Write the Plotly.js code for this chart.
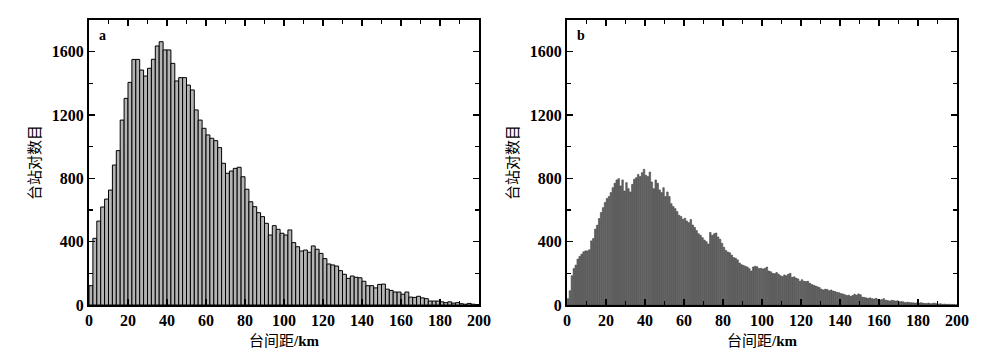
<!DOCTYPE html>
<html>
<head>
<meta charset="utf-8">
<script src="https://cdn.plot.ly/plotly-3.0.1.min.js"></script>
<style>html,body{margin:0;padding:0;background:#fff;}#chart{width:1000px;height:358px;}</style>
</head>
<body>
<div id="chart"></div>
<script>
// Panel a: 2-km bins from 0 to 200 km (counts of station pairs)
const binWidthA = 2;
const countsA = [
 122, 421, 530, 619, 669, 726, 884, 975, 1168, 1305,
 1406, 1551, 1551, 1484, 1446, 1495, 1552, 1636, 1663, 1611,
 1611, 1526, 1415, 1436, 1436, 1389, 1358, 1232, 1168, 1116,
 1074, 1053, 1038, 994, 895, 832, 846, 863, 870, 810,
 731, 652, 621, 583, 558, 516, 442, 501, 478, 453,
 442, 474, 394, 368, 341, 347, 333, 373, 352, 326,
 293, 259, 253, 246, 217, 194, 168, 183, 175, 172,
 150, 122, 122, 108, 130, 132, 100, 92, 82, 82,
 68, 82, 50, 48, 55, 45, 40, 25, 25, 25,
 20, 15, 20, 12, 15, 8, 5, 10, 5, 3
];
// Panel b: 1-km bins from 0 to 200 km
const binWidthB = 1;
const countsB = [
 40, 90, 185, 230, 252, 290, 307, 321, 336, 342,
 342, 349, 405, 420, 479, 504, 546, 584, 615, 647,
 672, 685, 710, 741, 769, 790, 798, 752, 790, 720,
 773, 735, 714, 762, 794, 804, 825, 811, 836, 857,
 819, 811, 840, 777, 735, 790, 769, 727, 710, 741,
 685, 714, 685, 640, 622, 609, 590, 567, 559, 542,
 548, 530, 520, 540, 505, 490, 470, 450, 440, 425,
 410, 400, 385, 458, 440, 450, 455, 430, 415, 390,
 365, 345, 335, 330, 315, 300, 295, 285, 265, 255,
 250, 245, 240, 230, 215, 240, 245, 242, 230, 232,
 228, 232, 240, 215, 210, 200, 198, 205, 195, 185,
 180, 190, 185, 195, 200, 175, 178, 170, 165, 150,
 160, 150, 148, 150, 138, 130, 125, 120, 115, 110,
 100, 95, 100, 98, 90, 95, 88, 85, 80, 78,
 72, 70, 65, 60, 62, 55, 60, 68, 62, 70,
 65, 50, 48, 45, 42, 45, 40, 38, 42, 36,
 32, 35, 40, 30, 28, 25, 30, 28, 25, 27,
 20, 22, 20, 15, 18, 16, 15, 14, 12, 14,
 12, 15, 12, 10, 10, 12, 8, 10, 12, 8,
 6, 8, 5, 6, 5, 4, 5, 3, 4, 2
];
const panelLabels = ['a', 'b'];
const xTitleCJK = '台间距';
const xTitleUnit = '/km';
const yTitle = '台站对数目';
const xTickVals = [0, 20, 40, 60, 80, 100, 120, 140, 160, 180, 200];
const yTickVals = [0, 400, 800, 1200, 1600];

const serif = '"Liberation Serif", "DejaVu Serif", serif';
const tickFont = {family: serif, size: 16, color: '#000', weight: 'bold'};
const titleFont = {family: '"Noto Sans CJK SC", sans-serif', size: 15, color: '#000'};

const traces = [
  {type: 'bar', x0: binWidthA / 2, dx: binWidthA, y: countsA, xaxis: 'x', yaxis: 'y',
   marker: {color: '#b4b4b4', line: {color: '#000', width: 1}}, width: binWidthA, hoverinfo: 'skip'},
  {type: 'bar', x0: binWidthB / 2, dx: binWidthB, y: countsB, xaxis: 'x2', yaxis: 'y2',
   marker: {color: '#6a6a6a', line: {color: '#333', width: 0.5}}, width: binWidthB * 0.8, hoverinfo: 'skip'}
];

function xax(domain, anchor) {
  return {domain: domain, anchor: anchor, range: [0, 200], tickvals: xTickVals,
    ticks: 'inside', ticklen: 6, tickwidth: 1.5, tickcolor: '#000',
    minor: {dtick: 10, ticks: 'inside', ticklen: 4, tickwidth: 1.2, tickcolor: '#000'},
    showline: true, linecolor: '#000', linewidth: 2, mirror: 'allticks', showgrid: false, zeroline: false,
    tickfont: tickFont,
    title: {text: xTitleCJK + '<span style="font-family:Liberation Serif;font-weight:bold">' + xTitleUnit + '</span>', font: titleFont, standoff: 3}};
}
function yax(domain, anchor) {
  return {domain: domain, anchor: anchor, range: [0, 1800], tickvals: yTickVals,
    ticks: 'inside', ticklen: 6, tickwidth: 1.5, tickcolor: '#000',
    minor: {tickvals: [200, 600, 1000, 1400], ticks: 'inside', ticklen: 4, tickwidth: 1.2, tickcolor: '#000'},
    showline: true, linecolor: '#000', linewidth: 2, mirror: 'allticks', showgrid: false, zeroline: false,
    tickfont: tickFont,
    title: {text: yTitle, font: titleFont, standoff: 8}};
}

const yd = [1 - 305 / 358, 1 - 20 / 358];
const layout = {
  width: 1000, height: 358,
  margin: {l: 0, r: 0, t: 0, b: 0},
  paper_bgcolor: '#fff', plot_bgcolor: '#fff',
  showlegend: false, bargap: 0,
  xaxis: xax([0.089, 0.479], 'y'),
  yaxis: yax(yd, 'x'),
  xaxis2: xax([0.567, 0.957], 'y2'),
  yaxis2: yax(yd, 'x2'),
  annotations: [
    {text: '<b>' + panelLabels[0] + '</b>', xref: 'x', yref: 'y', x: 4, y: 1765, xanchor: 'left', yanchor: 'top', showarrow: false, font: {family: serif, size: 14, color: '#000'}},
    {text: '<b>' + panelLabels[1] + '</b>', xref: 'x2', yref: 'y2', x: 4, y: 1765, xanchor: 'left', yanchor: 'top', showarrow: false, font: {family: serif, size: 14, color: '#000'}}
  ]
};
Plotly.newPlot('chart', traces, layout, {staticPlot: true});
</script>
</body>
</html>
